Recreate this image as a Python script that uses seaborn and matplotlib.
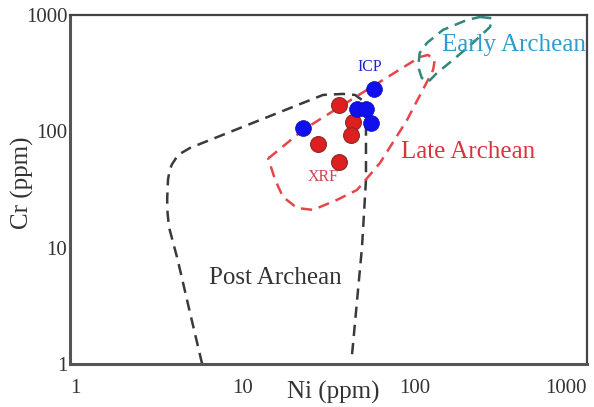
import numpy as np
import pandas as pd
import matplotlib
matplotlib.use("Agg")
import matplotlib.pyplot as plt
import seaborn as sns

# sample points (Ni, Cr in ppm)
icp_ni = [22.6, 46.1, 52.2, 55.8, 58.4]
icp_cr = [107.6, 155, 157, 118.8, 230]
xrf_ni = [36.3, 43.7, 42.8, 27.5, 36.6]
xrf_cr = [167.6, 120.5, 92.5, 77.9, 54.2]

# field boundaries
post_ni = [5.84, 4.9, 4.2, 3.75, 3.68, 3.66, 3.70, 3.78, 3.9, 4.24, 4.97, 29.4, 38.4, 45.1, 49.5, 52.2, 52.2, 49.5, 43.3]
post_cr = [1.0, 3.0, 8.0, 15.0, 19.9, 25.7, 38.2, 46.0, 52.0, 62.7, 72.0, 205.6, 209.8, 205.6, 186, 125, 38.2, 10.1, 1.19]

late_ni = [14.1, 14.5, 22.5, 55.1, 107.5, 119.6, 131, 128, 119.6, 90.3, 63, 46.3, 35.4, 25.7, 20.8, 17.2, 15.5, 14.1]
late_cr = [59, 60.2, 102.8, 236, 436, 454, 411, 337, 277, 125, 53.5, 31.3, 25.7, 21.1, 21.9, 27.3, 38.2, 59]

early_ni = [240, 281, 274, 218, 167, 135, 120, 110, 105, 107, 118, 146, 201, 240]
early_cr = [963, 939, 790, 576, 411, 318, 266, 288, 358, 472, 576, 745, 907, 963]

sns.set_style("white")
plt.rcParams['font.family'] = ['Liberation Serif', 'DejaVu Serif']

fig = plt.figure(figsize=(5.94, 4.07), dpi=100)
ax = fig.add_axes([0.118, 0.106, 0.870, 0.857])

dash = (4.5, 2.8)
fields = [
    (post_ni, post_cr, '#3a3a3a'),
    (late_ni, late_cr, '#e8454a'),
    (early_ni, early_cr, '#2c8a7c'),
]
for ni, cr, col in fields:
    df = pd.DataFrame({'Ni': ni, 'Cr': cr})
    sns.lineplot(data=df, x='Ni', y='Cr', sort=False, estimator=None,
                 color=col, lw=1.8, ax=ax)
    ax.lines[-1].set_dashes(dash)

sns.scatterplot(x=xrf_ni, y=xrf_cr, s=130, color='#dd1f1f', edgecolor='#8a2a2a',
                linewidth=0.8, ax=ax, zorder=5)
sns.scatterplot(x=icp_ni, y=icp_cr, s=130, color='#1010ee', edgecolor='#1010aa',
                linewidth=0.5, ax=ax, zorder=6)

ax.set_xscale('log')
ax.set_yscale('log')
ax.set_xlim(1, 1000)
ax.set_ylim(1, 1000)
ticks = [1, 10, 100, 1000]
tick_labels = ['1', '10', '100', '1000']
ax.set_xticks(ticks)
ax.set_xticklabels(tick_labels)
ax.set_yticks(ticks)
ax.set_yticklabels(tick_labels)
ax.minorticks_off()
ax.tick_params(axis='x', length=0, pad=11, labelsize=15, colors='#333333')
ax.tick_params(axis='y', length=0, pad=2, labelsize=15, colors='#333333')
ax.get_xticklabels()[-1].set_ha('right')
ax.get_xticklabels()[0].set_ha('left')

for side in ['left', 'bottom']:
    ax.spines[side].set_color('#555555')
    ax.spines[side].set_linewidth(2.2)
for side in ['top', 'right']:
    ax.spines[side].set_color('#444444')
    ax.spines[side].set_linewidth(1.6)

ax.set_xlabel('Ni (ppm)', fontsize=18, color='#333333')
ax.set_ylabel('Cr (ppm)', fontsize=18, color='#333333')
ax.xaxis.set_label_coords(0.51, -0.05)
ax.yaxis.set_label_coords(-0.07, 0.52)

ax.text(377, 553, 'Early Archean', fontsize=18, color='#2e9ccc', ha='center', va='center')
ax.text(204, 66.5, 'Late Archean', fontsize=18, color='#d8343c', ha='center', va='center')
ax.text(15.5, 5.49, 'Post Archean', fontsize=18, color='#333333', ha='center', va='center')
ax.text(55.1, 358, 'ICP', fontsize=11.5, color='#2020dd', ha='center', va='center')
ax.text(29.4, 40.5, 'XRF', fontsize=11.5, color='#cc4455', ha='center', va='center')

fig.savefig('out.png', dpi=100)
